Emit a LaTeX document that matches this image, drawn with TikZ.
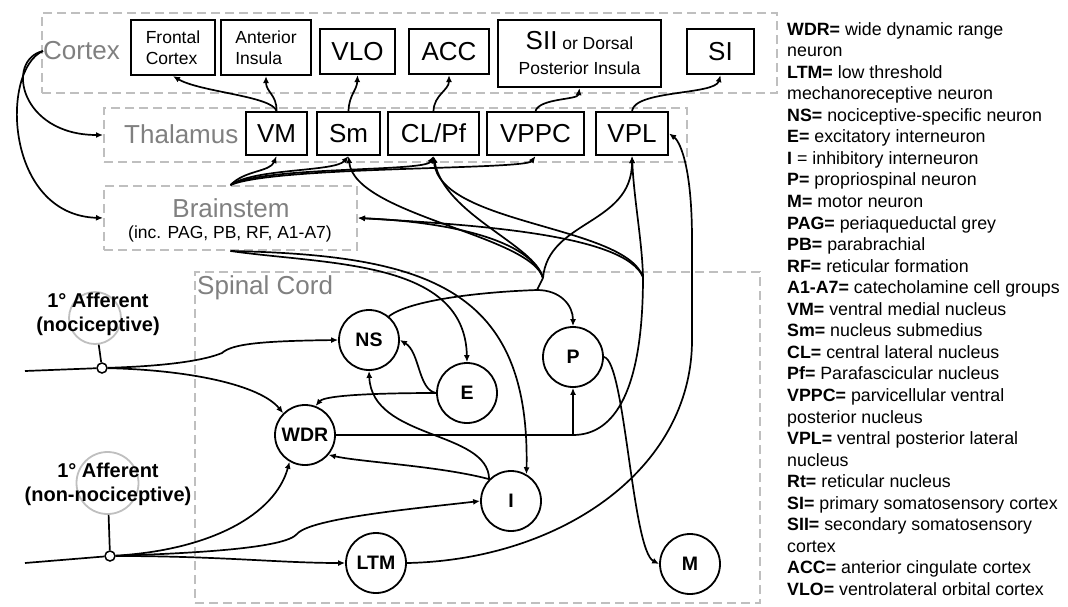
\documentclass[tikz,border=0pt]{standalone}
\usepackage{fontspec}
\setmainfont{Liberation Sans}
\usetikzlibrary{arrows.meta}

\begin{document}
\begin{tikzpicture}[x=1pt, y=-1pt, >={Latex[length=7pt,width=6pt]},
  every node/.style={font=\fontsize{17.5}{21}\selectfont},
  region/.style={draw=black!25, line width=2pt, dash pattern=on 9pt off 5pt, inner sep=0pt},
  regionlbl/.style={text=black!50, font=\fontsize{26}{30}\selectfont, inner sep=0pt},
  areabox/.style={draw, line width=2.2pt, inner sep=0pt, align=center},
  bigtxt/.style={font=\fontsize{26}{30}\selectfont},
  neuron/.style={draw, circle, line width=1.8pt, minimum size=60pt, inner sep=0pt, font=\fontsize{19.5}{22}\selectfont\bfseries},
  affcircle/.style={draw=black!25, circle, line width=1.8pt, inner sep=0pt},
  afflbl/.style={font=\fontsize{20}{24}\selectfont\bfseries, align=center},
  junction/.style={draw, circle, fill=white, line width=1.5pt, minimum size=10pt, inner sep=0pt},
  tract/.style={->, line width=1.7pt},
  fibre/.style={line width=1.7pt}]
  \useasboundingbox (0,0) rectangle (1068,606);
  % regions
  \node[region, minimum width=735pt, minimum height=80pt] (ctx) at (409.5,53) {};
  \node[region, minimum width=583pt, minimum height=54pt] (thal) at (395.5,135) {};
  \node[region, minimum width=253pt, minimum height=64pt] (bstem) at (230.5,218) {};
  \node[region, minimum width=565pt, minimum height=331pt] (cord) at (477.5,437.5) {};
  \node[regionlbl, anchor=west] (ctxlbl) at (43,51) {Cortex};
  \node[regionlbl, anchor=west] (thallbl) at (124,134) {Thalamus};
  \node[regionlbl] (bstemlbl) at (231,208) {Brainstem};
  \node (bsteminc) at (230,234) {(inc. PAG, PB, RF, A1-A7)};
  \node[regionlbl, anchor=west] (cordlbl) at (197,288) {Spinal Cord};
  % cortex
  \node[areabox, align=left, minimum width=84pt, minimum height=55pt] (fc) at (173,47.5) {Frontal\\Cortex};
  \node[areabox, align=left, minimum width=90pt, minimum height=55pt] (ai) at (266,47.5) {Anterior\\Insula};
  \node[areabox, bigtxt, minimum width=75pt, minimum height=45pt] (vlo) at (357.5,51.5) {VLO};
  \node[areabox, bigtxt, minimum width=80pt, minimum height=45pt] (acc) at (449,51.5) {ACC};
  \node[areabox, minimum width=163pt, minimum height=67pt] (sii) at (579.5,53.5) {{\fontsize{26}{26}\selectfont SII} or Dorsal\\[4pt]Posterior Insula};
  \node[areabox, bigtxt, minimum width=67pt, minimum height=45pt] (si) at (720.5,51.5) {SI};
  % thalamus
  \node[areabox, bigtxt, minimum width=61pt, minimum height=43pt] (vm) at (276.5,133.5) {VM};
  \node[areabox, bigtxt, minimum width=63pt, minimum height=43pt] (sm) at (348.5,133.5) {Sm};
  \node[areabox, bigtxt, minimum width=91pt, minimum height=43pt] (clpf) at (433.5,133.5) {CL/Pf};
  \node[areabox, bigtxt, minimum width=97pt, minimum height=43pt] (vppc) at (535.5,133.5) {VPPC};
  \node[areabox, bigtxt, minimum width=72pt, minimum height=43pt] (vpl) at (632,133.5) {VPL};
  % spinal cord
  \node[neuron] (ns) at (369,340) {NS};
  \node[neuron] (wdr) at (305,435) {WDR};
  \node[neuron] (e) at (467,393) {E};
  \node[neuron] (p) at (573,357) {P};
  \node[neuron] (i) at (511,501) {I};
  \node[neuron] (m) at (690,564) {M};
  \node[neuron] (ltm) at (376,563) {LTM};
  % afferents
  \node[affcircle, minimum size=52pt] (nocirc) at (95,318) {};
  \node[afflbl] (noclbl) at (98,314) {1\textdegree{} Afferent\\(nociceptive)};
  \node[affcircle, minimum size=62pt] (nncirc) at (107.5,483) {};
  \node[afflbl] (nnclbl) at (108,484) {1\textdegree{} Afferent\\(non-nociceptive)};
  \node[junction] (nj) at (102,368) {};
  \node[junction] (nnj) at (110,556) {};
  \coordinate (nin) at (25,371);
  \coordinate (nnin) at (25,563);
  \draw[fibre] (nin) -- (nj);
  \draw[fibre] (nnin) -- (nnj);
  \draw[fibre] (nocirc) -- (nj);
  \draw[fibre] (nncirc) -- (nnj);
  \draw[tract] (nj) .. controls (170,366) and (205,360) .. (222,353) .. controls (232,344) and (260,341) .. (ns.west);
  \draw[tract] (nj) .. controls (190,370) and (260,385) .. (wdr.135);
  \draw[tract] (nnj) .. controls (210,550) and (275,515) .. (wdr.-120);
  \draw[tract] (nnj) .. controls (200,553) and (285,548) .. (297,534) .. controls (310,518) and (420,508) .. (i.west);
  \draw[tract] (nnj) .. controls (220,556) and (280,563) .. (ltm.west);
  % interneurons
  \draw[tract] (e.west) .. controls (418,390) and (420,352) .. (ns.east);
  \draw[tract] (e.west) .. controls (380,393) and (325,395) .. (wdr.70);
  \draw[tract] (i.135) .. controls (488,430) and (372,440) .. (ns.south);
  \draw[tract] (i.135) .. controls (440,466) and (360,462) .. (wdr.-40);
  % WDR projections
  \coordinate (wj) at (573,435);
  \coordinate (wc) at (643,277);
  \draw[fibre] (wdr.east) -- (wj);
  \draw[tract] (wj) -- (p.south);
  \draw[fibre] (wj) .. controls (615,435) and (643,390) .. (wc);
  \draw[tract] (wc) .. controls (642,240) and (634,200) .. (vpl.south);
  \draw[tract] (wc) .. controls (625,225) and (440,225) .. (clpf.south);
  \draw[tract] (wc) .. controls (625,235) and (480,225) .. (bstem.east);
  % NS projections
  \coordinate (nsj) at (537,290);
  \coordinate (nsc) at (543,278);
  \draw[fibre] (ns.50) .. controls (410,300) and (480,292) .. (nsj);
  \draw[tract] (nsj) .. controls (560,290) and (573,305) .. (p.north);
  \draw[fibre] (nsj) -- (nsc);
  \draw[tract] (nsc) .. controls (548,220) and (632,225) .. (vpl.south);
  \draw[tract] (nsc) .. controls (535,245) and (445,215) .. (clpf.south);
  \draw[tract] (nsc) .. controls (530,235) and (355,215) .. (sm.south);
  \draw[tract] (nsc) .. controls (530,240) and (450,222) .. (bstem.east);
  % brainstem
  \draw[tract] (bstem.south) .. controls (330,265) and (465,260) .. (e.north);
  \draw[tract] (bstem.south) .. controls (430,255) and (530,290) .. (i.60);
  \draw[tract] (bstem.north) .. controls (245,170) and (270,172) .. (vm.south);
  \draw[tract] (bstem.north) .. controls (255,168) and (335,172) .. (sm.south);
  \draw[tract] (bstem.north) .. controls (265,166) and (425,172) .. (clpf.south);
  \draw[tract] (bstem.north) .. controls (275,166) and (525,170) .. (vppc.south);
  \draw[tract] (ctxlbl.west) .. controls (5,60) and (20,135) .. (thal.west);
  \draw[tract] (ctxlbl.west) .. controls (0,70) and (5,215) .. (bstem.west);
  % thalamocortical
  \draw[tract] (vm.north) .. controls (272,96) and (200,92) .. (fc.south);
  \draw[tract] (vm.north) .. controls (277,95) and (266,92) .. (ai.south);
  \draw[tract] (sm.north) .. controls (349,95) and (357,90) .. (vlo.south);
  \draw[tract] (clpf.north) .. controls (434,95) and (449,90) .. (acc.south);
  \draw[tract] (vppc.north) .. controls (540,98) and (578,100) .. (sii.south);
  \draw[tract] (vpl.north) .. controls (635,90) and (715,95) .. (si.south);
  % motor and dorsal column
  \draw[tract] (ltm.east) .. controls (560,560) and (692,470) .. (692,340) -- (692,240) .. controls (692,160) and (678,140) .. (vpl.east);
  \draw[tract] (p.east) .. controls (625,360) and (632,550) .. (m.west);
  % legend
  \node[anchor=north west, align=left, inner sep=0pt, font=\fontsize{17.8}{21.55}\selectfont] (legend) at (787,22) {\textbf{WDR=} wide dynamic range\\neuron\\\textbf{LTM=} low threshold\\mechanoreceptive neuron\\\textbf{NS=} nociceptive-specific neuron\\\textbf{E=} excitatory interneuron\\\textbf{I} = inhibitory interneuron\\\textbf{P=} propriospinal neuron\\\textbf{M=} motor neuron\\\textbf{PAG=} periaqueductal grey\\\textbf{PB=} parabrachial\\\textbf{RF=} reticular formation\\\textbf{A1-A7=} catecholamine cell groups\\\textbf{VM=} ventral medial nucleus\\\textbf{Sm=} nucleus submedius\\\textbf{CL=} central lateral nucleus\\\textbf{Pf=} Parafascicular nucleus\\\textbf{VPPC=} parvicellular ventral\\posterior nucleus\\\textbf{VPL=} ventral posterior lateral\\nucleus\\\textbf{Rt=} reticular nucleus\\\textbf{SI=} primary somatosensory cortex\\\textbf{SII=} secondary somatosensory\\cortex\\\textbf{ACC=} anterior cingulate cortex\\\textbf{VLO=} ventrolateral orbital cortex};
\end{tikzpicture}
\end{document}
